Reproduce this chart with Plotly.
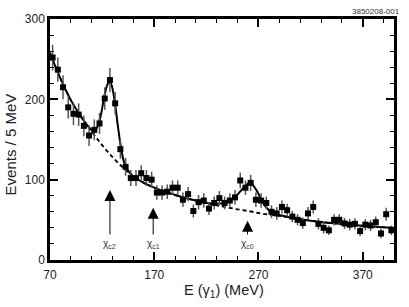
import plotly.graph_objects as go

# Data: photon energy bins (MeV) and events / 5 MeV
energy = [72.5, 77.5, 82.5, 87.5, 92.5, 97.5, 102.5, 107.5, 112.5, 117.5,
          122.5, 127.5, 132.5, 137.5, 142.5, 147.5, 152.5, 157.5, 162.5, 167.5,
          172.5, 177.5, 182.5, 187.5, 192.5, 197.5, 202.5, 207.5, 212.5, 217.5,
          222.5, 227.5, 232.5, 237.5, 242.5, 247.5, 252.5, 257.5, 262.5, 267.5,
          272.5, 277.5, 282.5, 287.5, 292.5, 297.5, 302.5, 307.5, 312.5, 317.5,
          322.5, 327.5, 332.5, 337.5, 342.5, 347.5, 352.5, 357.5, 362.5, 367.5,
          372.5, 377.5, 382.5, 387.5, 392.5, 397.5]
events = [252, 237, 215, 190, 182, 181, 167, 155, 162, 170,
          201, 224, 195, 138, 116, 102, 102, 108, 102, 100,
          84, 84, 85, 90, 90, 75, 82, 61, 72, 74,
          64, 71, 77, 71, 74, 78, 99, 90, 96, 75,
          74, 71, 60, 58, 66, 62, 54, 50, 46, 58,
          66, 45, 40, 37, 50, 50, 45.5, 44, 45, 36,
          44, 43, 47, 33, 57, 37]
errors = [16, 15, 15, 14, 14, 14, 13, 13, 13, 13,
          14, 15, 14, 12, 11, 10, 10, 10, 10, 10,
          9, 9, 9, 9, 9, 9, 9, 8, 9, 9,
          8, 8, 9, 8, 9, 9, 10, 9, 10, 9,
          9, 8, 8, 8, 8, 8, 7, 7, 7, 8,
          8, 7, 7, 6, 7, 7, 7, 7, 7, 6,
          7, 7, 7, 6, 8, 6]

# Fit curves
fit_x = [70, 80, 90, 100, 105, 110, 114, 118, 122, 125, 127, 129, 132, 135, 138,
         141, 145, 150, 160, 170, 180, 190, 200, 210, 220, 230, 237, 243, 248,
         253, 258, 261, 264, 268, 272, 276, 280, 285, 290, 300, 320, 340, 360, 380, 400]
fit_y = [258, 226, 199, 178, 169, 162, 163, 176, 203, 218, 222, 218, 198, 168, 141,
         122, 111, 104, 96, 90, 85, 81, 77, 74, 71, 70, 71, 74, 79,
         86, 93, 96, 94, 87, 77, 68, 62, 58, 56, 53, 49, 46, 43.5, 41.5, 40]
bg_x = [70, 80, 90, 100, 110, 120, 130, 140, 150, 160, 170, 180, 190, 200, 210,
        220, 230, 240, 250, 260, 270, 280, 290, 300, 320, 340, 360, 380, 400]
bg_y = [258, 226, 199, 178, 160, 143, 128, 115, 104, 96, 90, 85, 81, 77, 74,
        71, 68, 65.5, 63, 61, 58.5, 56.5, 55, 53, 49, 46, 43.5, 41.5, 40]

# Resonance markers
res_names = ["χ<sub>c2</sub>", "χ<sub>c1</sub>", "χ<sub>c0</sub>"]
res_x = [127.5, 169, 259.5]
res_tip = [87, 65, 49]
label_y = 20

x_ticks = [70, 170, 270, 370]
y_ticks = [0, 100, 200, 300]

FONT = "Liberation Sans, Arial, Helvetica, sans-serif"

fig = go.Figure()
fig.add_trace(go.Scatter(x=bg_x, y=bg_y, mode="lines", line_shape="spline",
                         line=dict(color="black", width=1.8, dash="4px,3px"),
                         hoverinfo="skip", showlegend=False))
fig.add_trace(go.Scatter(x=fit_x, y=fit_y, mode="lines", line_shape="spline",
                         line=dict(color="black", width=2),
                         hoverinfo="skip", showlegend=False))
fig.add_trace(go.Scatter(x=energy, y=events, mode="markers",
                         marker=dict(symbol="square", size=6, color="black"),
                         error_y=dict(type="data", array=errors, color="#555",
                                      thickness=1.5, width=0),
                         showlegend=False))

ann = []
for name, xv, tip in zip(res_names, res_x, res_tip):
    ann.append(dict(x=xv, y=tip, xref="x", yref="y", ax=xv, ay=label_y,
                    axref="x", ayref="y", text=name, showarrow=True,
                    arrowhead=2, arrowsize=2.2, arrowwidth=1, arrowcolor="black",
                    standoff=0, startstandoff=2,
                    font=dict(family=FONT, size=10, color="#333")))
ann.append(dict(x=1.023, y=1.0325, xref="paper", yref="paper", text="3850208-001",
                showarrow=False, xanchor="right", yanchor="middle",
                font=dict(family=FONT, size=8, color="#333")))
ann.append(dict(x=-0.116, y=0.48, xref="paper", yref="paper", text="Events / 5 MeV",
                showarrow=False, textangle=-90, xanchor="center", yanchor="middle",
                font=dict(family=FONT, size=15, color="#222")))
ann.append(dict(x=0.506, y=-0.128, xref="paper", yref="paper",
                text="E (γ<sub>1</sub>) (MeV)",
                showarrow=False, xanchor="center", yanchor="middle",
                font=dict(family=FONT, size=14.5, color="#222")))

axis_common = dict(showgrid=False, zeroline=False, showline=True, linecolor="black",
                   linewidth=2.5, mirror="ticks", ticks="inside", ticklen=8,
                   tickwidth=1.5, tickcolor="black",
                   tickfont=dict(family=FONT, size=12, color="#222"))
fig.update_layout(
    width=409, height=307,
    margin=dict(l=50, r=15, t=14, b=47),
    paper_bgcolor="white", plot_bgcolor="white",
    xaxis=dict(range=[70, 400], tickvals=x_ticks, ticklabelstandoff=2,
               minor=dict(tick0=70, dtick=20, ticks="inside", ticklen=4,
                          tickwidth=1, tickcolor="black"),
               **axis_common),
    yaxis=dict(range=[0, 300], tickvals=y_ticks,
               minor=dict(tick0=0, dtick=20, ticks="inside", ticklen=4,
                          tickwidth=1, tickcolor="black"),
               **axis_common),
    annotations=ann,
)
fig.write_html("out.html", config={"displayModeBar": False},
               post_script="document.body.style.margin='0';document.body.style.padding='0';")
